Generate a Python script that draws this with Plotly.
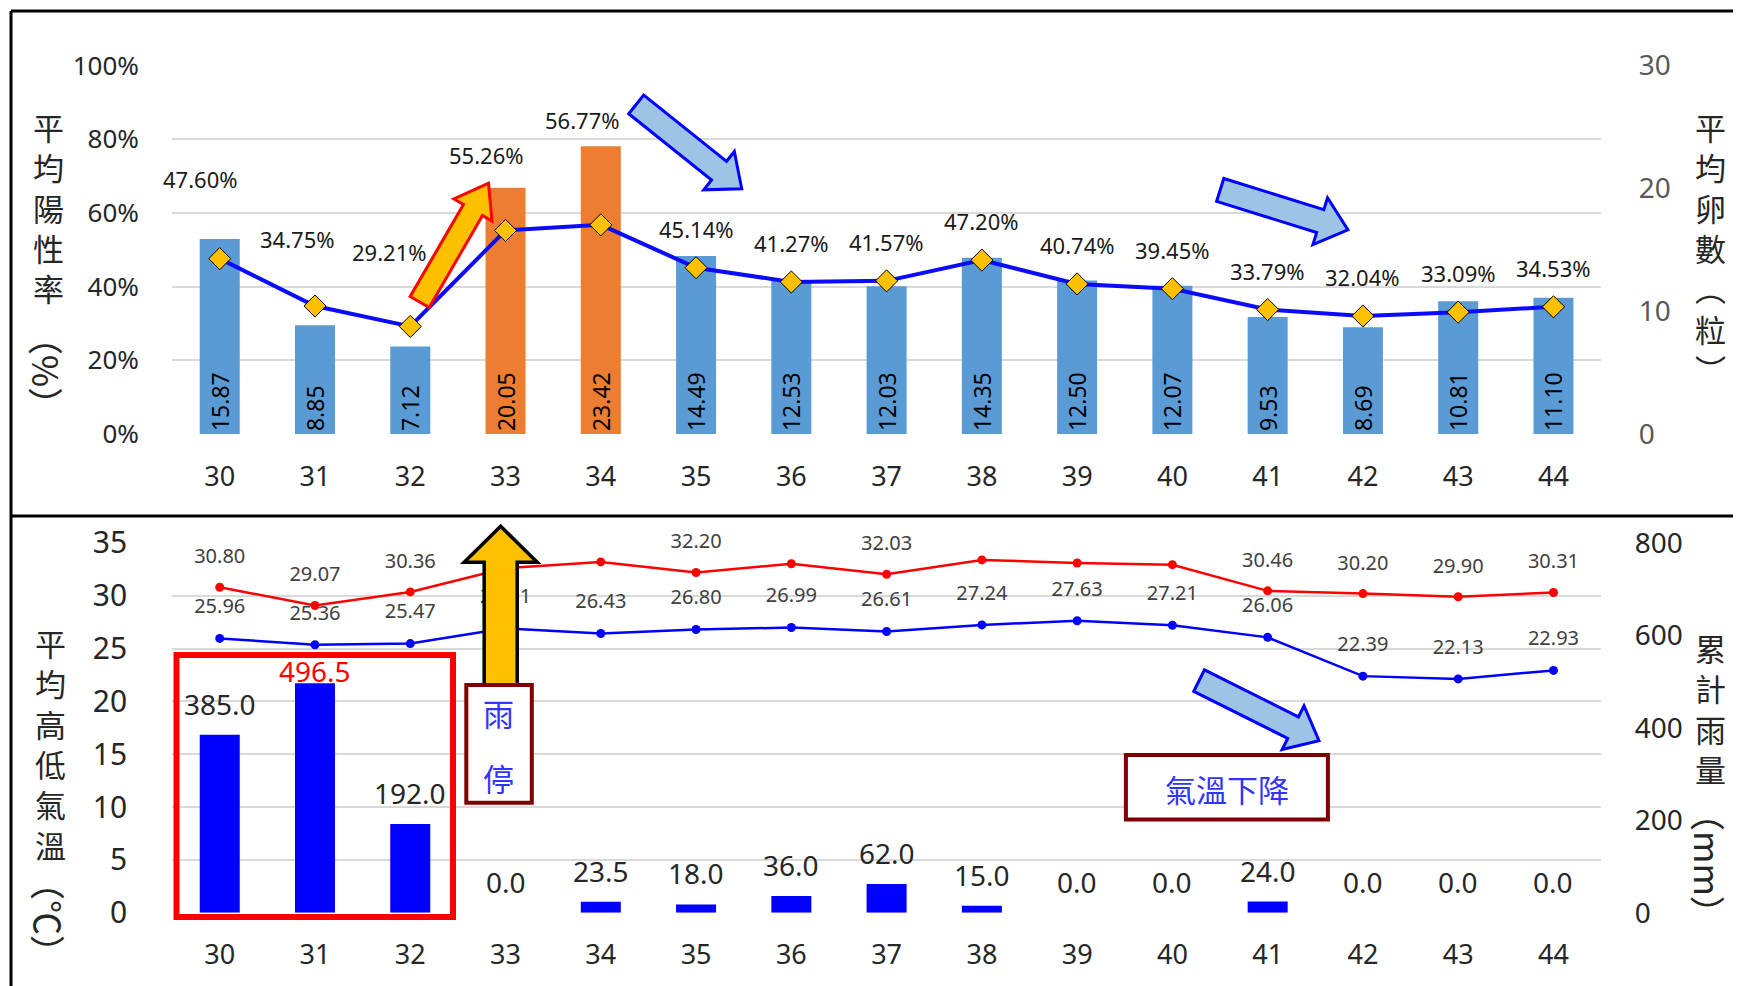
import math
import plotly.graph_objects as go

# ---------------- data ----------------
weeks = ['30', '31', '32', '33', '34', '35', '36', '37', '38', '39', '40', '41', '42', '43', '44']
egg_counts = [15.87, 8.85, 7.12, 20.05, 23.42, 14.49, 12.53, 12.03, 14.35, 12.50, 12.07, 9.53, 8.69, 10.81, 11.10]
positive_rate = [47.60, 34.75, 29.21, 55.26, 56.77, 45.14, 41.27, 41.57, 47.20, 40.74, 39.45, 33.79, 32.04, 33.09, 34.53]
temp_high = [30.80, 29.07, 30.36, 32.60, 33.20, 32.20, 33.03, 32.03, 33.39, 33.10, 32.94, 30.46, 30.20, 29.90, 30.31]
temp_low = [25.96, 25.36, 25.47, 26.91, 26.43, 26.80, 26.99, 26.61, 27.24, 27.63, 27.21, 26.06, 22.39, 22.13, 22.93]
rainfall = [385.0, 496.5, 192.0, 0.0, 23.5, 18.0, 36.0, 62.0, 15.0, 0.0, 0.0, 24.0, 0.0, 0.0, 0.0]
highlight_weeks = ['33', '34']

# label offsets (style, px)
pct_label_shift = [(-19, 80), (-18, 67), (-21, 74), (-19, 75), (-18, 105)] + [(0, 39)] * 10

PAGE_W, PAGE_H = 1741, 986
OFF = 8  # page body margin
W, H = PAGE_W - OFF, PAGE_H - OFF
FONT = "Noto Sans, Noto Sans CJK TC, sans-serif"
CJK = "Noto Sans CJK TC, Noto Sans, sans-serif"


def px(x):
    return (x - OFF) / W


def py(y):
    return 1 - (y - OFF) / H


X0, X1 = 172.1, 1601.1
TOP_Y0, TOP_Y1 = 434.1, 65.5
BOT_Y0, BOT_Y1 = 912.7, 542.9

fig = go.Figure()

# ---------------- top panel ----------------
bar_colors = ['#ED7D31' if w in highlight_weeks else '#5B9BD5' for w in weeks]
fig.add_trace(go.Bar(
    x=weeks, y=egg_counts, xaxis='x', yaxis='y',
    marker=dict(color=bar_colors, line=dict(width=0)),
    text=[f"{v:.2f}" for v in egg_counts],
    textposition='inside', insidetextanchor='start', textangle=-90,
    textfont=dict(size=23, color='#000000', family=FONT),
    constraintext='none', width=0.42, hoverinfo='skip'))

fig.add_trace(go.Scatter(
    x=weeks, y=positive_rate, xaxis='x', yaxis='y2', mode='lines+markers',
    line=dict(color='#0A0AFF', width=4),
    marker=dict(symbol='diamond', size=17, color='#FFC000', line=dict(color='#000000', width=1)),
    hoverinfo='skip'))

# ---------------- bottom panel ----------------
fig.add_trace(go.Bar(
    x=weeks, y=rainfall, xaxis='x2', yaxis='y3',
    marker=dict(color='#0000FF', line=dict(width=0)), width=0.42, hoverinfo='skip'))

fig.add_trace(go.Scatter(
    x=weeks, y=temp_high, xaxis='x2', yaxis='y4', mode='lines+markers',
    line=dict(color='#FF0000', width=2.5), marker=dict(size=9, color='#FF0000'),
    hoverinfo='skip'))
fig.add_trace(go.Scatter(
    x=weeks, y=temp_low, xaxis='x2', yaxis='y4', mode='lines+markers',
    line=dict(color='#0000FF', width=2.5), marker=dict(size=9, color='#0000FF'),
    hoverinfo='skip'))

# temperature value labels
fig.add_trace(go.Scatter(
    x=weeks, y=[min(v + 2.75, 35.4) for v in temp_high], xaxis='x2', yaxis='y4',
    mode='text', text=[f"{v:.2f}" for v in temp_high],
    textfont=dict(size=20, color='#404040', family=FONT), cliponaxis=False, hoverinfo='skip'))
fig.add_trace(go.Scatter(
    x=weeks, y=[v + 2.85 for v in temp_low], xaxis='x2', yaxis='y4',
    mode='text', text=[f"{v:.2f}" for v in temp_low],
    textfont=dict(size=20, color='#404040', family=FONT), cliponaxis=False, hoverinfo='skip'))

annotations = []
# percentage labels (x given as category index)
for i, (v, (dx, dy)) in enumerate(zip(positive_rate, pct_label_shift)):
    annotations.append(dict(x=i, y=v, xref='x', yref='y2', text=f"{v:.2f}%", showarrow=False,
                            xshift=dx, yshift=dy, xanchor='center', yanchor='middle',
                            font=dict(size=22, color='#1A1A1A', family=FONT)))
# rainfall labels
rmax = max(rainfall)
for i, v in enumerate(rainfall):
    is_max = v == rmax
    annotations.append(dict(x=i, y=v, xref='x2', yref='y3', text=f"{v:.1f}", showarrow=False,
                            yshift=12 if is_max else 31, xanchor='center', yanchor='middle',
                            font=dict(size=28, color='#FF0000' if is_max else '#262626', family=FONT)))


def ptext(text, x, y, size, color, angle=0):
    annotations.append(dict(x=px(x), y=py(y), xref='paper', yref='paper', showarrow=False,
                            text=text, textangle=angle, align='center',
                            xanchor='center', yanchor='middle',
                            font=dict(size=size, color=color, family=CJK)))


def vstack(chars, x, cy, size=31, color='#262626'):
    ptext('<br>'.join(chars), x, cy, size, color)


# axis titles (stacked vertical text)
vstack(list('平均陽性率'), 48, 207)
ptext('（%）', 48, 371, 35, '#262626', 90)
vstack(['平', '均', '卵', '數', '︵', '粒', '︶'], 1710, 247)
vstack(list('平均高低氣溫'), 50, 743)
ptext('（℃）', 50, 917, 35, '#262626', 90)
vstack(list('累計雨量'), 1710, 708)
ptext('（mm）', 1710, 863, 35, '#262626', 90)

# callout texts
ptext('雨', 499, 712.8, 31, '#3333FF')
ptext('停', 499, 777.2, 31, '#3333FF')
ptext('氣溫下降', 1226.9, 788.3, 31, '#3333FF')

# ---------------- shapes ----------------
shapes = []


def arrow(tail, tip, sw, hw, hl, fill, line, lw):
    tx, ty = tail
    hx, hy = tip
    L = math.hypot(hx - tx, hy - ty)
    ux, uy = (hx - tx) / L, (hy - ty) / L
    nx, ny = -uy, ux
    bx, by = hx - ux * hl, hy - uy * hl
    pts = [
        (tx + nx * sw / 2, ty + ny * sw / 2),
        (bx + nx * sw / 2, by + ny * sw / 2),
        (bx + nx * hw / 2, by + ny * hw / 2),
        (hx, hy),
        (bx - nx * hw / 2, by - ny * hw / 2),
        (bx - nx * sw / 2, by - ny * sw / 2),
        (tx - nx * sw / 2, ty - ny * sw / 2),
    ]
    path = 'M ' + ' L '.join(f"{px(a):.5f},{py(b):.5f}" for a, b in pts) + ' Z'
    shapes.append(dict(type='path', xref='paper', yref='paper', path=path,
                       fillcolor=fill, line=dict(color=line, width=lw), layer='above'))


def rect(x0, y0, x1, y1, color, lw, fill='rgba(0,0,0,0)'):
    shapes.append(dict(type='rect', xref='paper', yref='paper', x0=px(x0), x1=px(x1),
                       y0=py(y0), y1=py(y1), line=dict(color=color, width=lw),
                       fillcolor=fill, layer='above'))


def hline(x0, x1, y, lw=3):
    shapes.append(dict(type='line', xref='paper', yref='paper', x0=px(x0), x1=px(x1),
                       y0=py(y), y1=py(y), line=dict(color='#000000', width=lw), layer='above'))


arrow((419.7, 302.0), (488.5, 183.2), 22, 44, 31, '#FFC000', '#FF0000', 3)
arrow((636.2, 104.4), (741.7, 188.8), 24, 49, 29, '#9DC3E6', '#0000FF', 3)
arrow((1220.2, 189.9), (1347.9, 229.8), 24, 49, 29, '#9DC3E6', '#0000FF', 3)
arrow((500.7, 685.1), (500.7, 526.3), 33, 73, 36, '#FFC000', '#000000', 3.5)
arrow((1199.1, 680.6), (1319.0, 740.6), 24, 49, 29, '#9DC3E6', '#0000FF', 3)

rect(466.3, 685.1, 531.8, 802.7, '#7F0000', 4, '#FFFFFF')
rect(1125.9, 755.0, 1327.9, 819.4, '#7F0000', 4, '#FFFFFF')
rect(176.5, 655.0, 453.0, 917.0, '#FF0000', 6)

# frame
hline(11, PAGE_W, 11)
hline(11, PAGE_W, 516)
shapes.append(dict(type='line', xref='paper', yref='paper', x0=px(11), x1=px(11), y0=py(PAGE_H), y1=py(11),
                   line=dict(color='#000000', width=3), layer='above'))

# ---------------- layout ----------------
tick_hidden = 'rgba(0,0,0,0)'
xcommon = dict(type='category', categoryorder='array', categoryarray=weeks, range=[-0.5, 14.5],
               showgrid=False, zeroline=False, showline=False, ticks='outside', ticklen=18,
               tickcolor=tick_hidden, tickfont=dict(size=27, color='#262626', family=FONT),
               domain=[px(X0), px(X1)], fixedrange=True, automargin=False)

fig.update_layout(
    width=W, height=H, margin=dict(l=0, r=0, t=0, b=0, pad=0, autoexpand=False),
    paper_bgcolor='#FFFFFF', plot_bgcolor='#FFFFFF', showlegend=False,
    bargap=0.58,
    xaxis=dict(xcommon, anchor='y'),
    xaxis2=dict(xcommon, anchor='y3'),
    yaxis=dict(domain=[py(TOP_Y0), py(TOP_Y1)], range=[0, 30], dtick=10, side='right', anchor='x',
               showgrid=False, zeroline=False, showline=False, ticks='outside', ticklen=31,
               tickcolor=tick_hidden, tickfont=dict(size=28, color='#595959', family=FONT),
               automargin=False),
    yaxis2=dict(overlaying='y', side='left', anchor='x', range=[0, 100], dtick=20, ticksuffix='%',
                showgrid=True, gridcolor='#D9D9D9', gridwidth=2, zeroline=False, showline=False,
                ticks='outside', ticklen=27, tickcolor=tick_hidden,
                tickfont=dict(size=26, color='#262626', family=FONT), automargin=False),
    yaxis3=dict(domain=[py(BOT_Y0), py(BOT_Y1)], range=[0, 800], dtick=200, side='right', anchor='x2',
                showgrid=False, zeroline=False, showline=False, ticks='outside', ticklen=27,
                tickcolor=tick_hidden, tickfont=dict(size=28, color='#262626', family=FONT),
                automargin=False),
    yaxis4=dict(overlaying='y3', side='left', anchor='x2', range=[0, 35], dtick=5,
                showgrid=True, gridcolor='#D9D9D9', gridwidth=2, zeroline=False, showline=False,
                ticks='outside', ticklen=38, tickcolor=tick_hidden,
                tickfont=dict(size=30, color='#262626', family=FONT), automargin=False),
    annotations=annotations,
    shapes=shapes,
)

fig.write_html("out.html")
